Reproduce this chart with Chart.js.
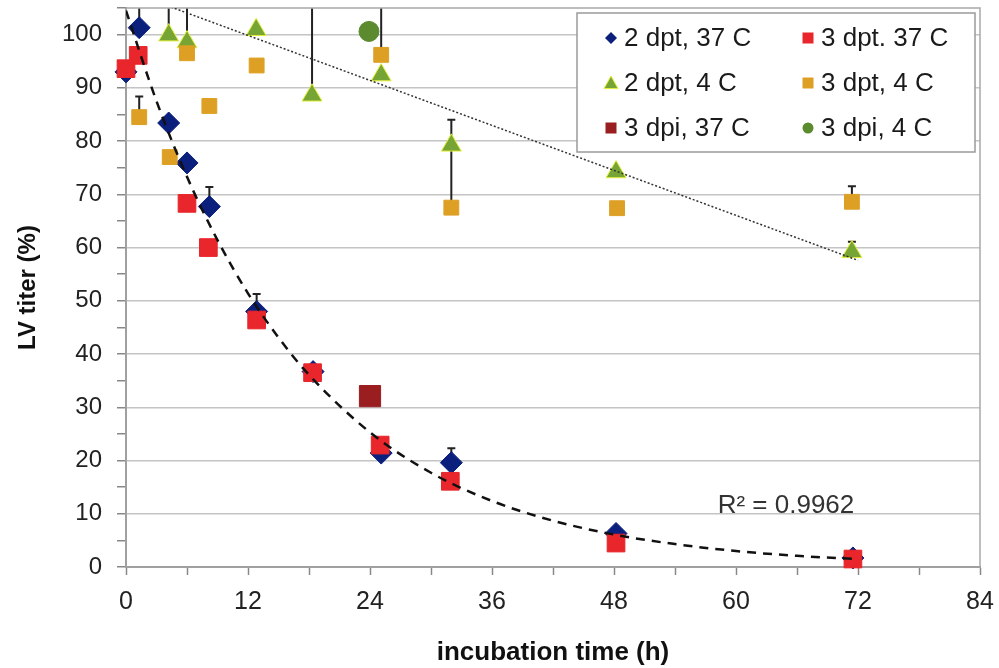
<!DOCTYPE html>
<html>
<head>
<meta charset="utf-8">
<script src="https://cdn.jsdelivr.net/npm/chart.js@4.4.0/dist/chart.umd.min.js"></script>
<style>
  html, body { margin: 0; padding: 0; background: #fff; }
  #wrap { width: 999px; height: 668px; }
</style>
</head>
<body>
<div id="wrap"><canvas id="titerChart" width="999" height="668"></canvas></div>
<script>
// LV titer (%) vs incubation time (h)

// 2 dpt, 37 C
const t2dpt37 = [0, 1.3, 4.2, 6.0, 8.2, 12.85, 18.4, 25.1, 32.0, 48.2, 71.5];
const v2dpt37 = [93.0, 101.3, 83.4, 75.9, 67.7, 48.0, 36.7, 21.4, 19.6, 6.3, 1.7];
const e2dpt37 = [null, 115, null, null, 71.4, 51.3, null, null, 22.3, null, null];

// 3 dpt. 37 C
const t3dpt37 = [0, 1.2, 6.0, 8.1, 12.85, 18.35, 25.0, 31.9, 48.2, 71.5];
const v3dpt37 = [93.6, 96.1, 68.3, 60.0, 46.4, 36.5, 22.9, 16.1, 4.5, 1.5];

// 2 dpt, 4 C
const t2dpt4 = [4.2, 6.0, 12.8, 18.3, 25.1, 32.0, 48.2, 71.4];
const v2dpt4 = [99.9, 98.6, 100.9, 88.6, 92.4, 79.2, 74.2, 59.2];
const e2dpt4 = [115, 115, null, 115, null, 84.0, null, 61.1];

// 3 dpt, 4 C
const t3dpt4 = [1.3, 4.3, 6.0, 8.2, 12.85, 25.1, 32.0, 48.3, 71.4];
const v3dpt4 = [84.5, 77.0, 96.5, 86.6, 94.2, 96.2, 67.5, 67.4, 68.6];
const e3dpt4 = [88.4, null, null, null, null, 115, 79.0, null, 71.5];

// 3 dpi
const t3dpi37 = [24.0];
const v3dpi37 = [32.1];
const t3dpi4 = [23.9];
const v3dpi4 = [100.6];

// trendlines as drawn in the figure
const tFit37 = [0, 3, 6, 9, 12, 15, 18, 24, 30, 36, 42, 48, 54, 60, 66, 72];
const vFit37 = [104.5, 87.5, 73.3, 61.4, 51.4, 43.1, 36.1, 25.3, 17.7, 12.4, 8.7, 6.1, 4.3, 3.0, 2.1, 1.5];
const tFit4 = [0, 72];
const vFit4 = [108.3, 57.6];
const r2Label = 'R² = 0.9962';

const xTicks = [0, 12, 24, 36, 48, 60, 72, 84];

function pts(xs, ys) {
  return xs.map((x, i) => ({x: x, y: ys[i]}));
}

const FONT = "'Liberation Sans', Arial, sans-serif";
const NARROW = "'Liberation Sans Narrow', 'Arial Narrow', 'Liberation Sans', sans-serif";

// error bars (plus direction only), drawn under the markers
const errorBars = {
  id: 'errorBars',
  beforeDatasetsDraw(chart) {
    const {ctx, chartArea: a, scales: {x, y}} = chart;
    ctx.save();
    ctx.beginPath();
    ctx.rect(a.left, a.top, a.right - a.left, a.bottom - a.top);
    ctx.clip();
    ctx.strokeStyle = '#222';
    ctx.lineWidth = 2;
    chart.data.datasets.forEach(ds => {
      if (!ds.errTop) return;
      ds.data.forEach((p, i) => {
        const top = ds.errTop[i];
        if (top == null) return;
        const px = x.getPixelForValue(p.x);
        const y0 = y.getPixelForValue(p.y);
        const y1 = y.getPixelForValue(top);
        ctx.beginPath();
        ctx.moveTo(px, y0);
        ctx.lineTo(px, y1);
        ctx.moveTo(px - 4, y1);
        ctx.lineTo(px + 4, y1);
        ctx.stroke();
      });
    });
    // plot area frame
    ctx.restore();
    ctx.save();
    ctx.strokeStyle = '#a8a8a8';
    ctx.lineWidth = 1.5;
    ctx.strokeRect(a.left, a.top, a.right - a.left, a.bottom - a.top);
    ctx.restore();
  }
};

function marker(ctx, style, x, y, s, fill, stroke) {
  ctx.beginPath();
  if (style === 'rectRot') {
    ctx.moveTo(x - s, y); ctx.lineTo(x, y - s); ctx.lineTo(x + s, y); ctx.lineTo(x, y + s);
  } else if (style === 'rect') {
    ctx.rect(x - s, y - s, 2 * s, 2 * s);
  } else if (style === 'triangle') {
    ctx.moveTo(x, y - s); ctx.lineTo(x + s, y + s * 0.8); ctx.lineTo(x - s, y + s * 0.8);
  } else {
    ctx.arc(x, y, s, 0, Math.PI * 2);
  }
  ctx.closePath();
  ctx.fillStyle = fill;
  ctx.fill();
  if (stroke) { ctx.strokeStyle = stroke; ctx.lineWidth = 1; ctx.stroke(); }
}

// boxed two-column legend and the R² note
const boxLegend = {
  id: 'boxLegend',
  afterDraw(chart) {
    const ctx = chart.ctx;
    ctx.save();
    ctx.fillStyle = '#fff';
    ctx.fillRect(577, 13, 398, 139);
    ctx.strokeStyle = '#9a9a9a';
    ctx.lineWidth = 1.5;
    ctx.strokeRect(577, 13, 398, 139);
    const colX = [611, 808];
    const rowY = [38, 83, 128];
    const sizes = {rectRot: 6, rect: 5.5, triangle: 7, circle: 5.5};
    chart.data.datasets.slice(0, 6).forEach((ds, i) => {
      const cx = colX[i % 2], cy = rowY[Math.floor(i / 2)];
      marker(ctx, ds.pointStyle, cx, cy, sizes[ds.pointStyle], ds.backgroundColor,
        ds.pointStyle === 'triangle' ? ds.borderColor : null);
      ctx.fillStyle = '#1a1a1a';
      ctx.font = '26px ' + FONT;
      ctx.textBaseline = 'middle';
      ctx.textAlign = 'left';
      ctx.fillText(ds.label, cx + 13, cy + 1);
    });
    const x = chart.scales.x, y = chart.scales.y;
    ctx.fillStyle = '#333';
    ctx.font = '26px ' + FONT;
    ctx.textBaseline = 'middle';
    ctx.fillText(r2Label, x.getPixelForValue(58.2), y.getPixelForValue(11.5));
    ctx.restore();
  }
};

const data = {
  datasets: [
    {
      label: '2 dpt, 37 C', data: pts(t2dpt37, v2dpt37), errTop: e2dpt37, clip: false,
      pointStyle: 'rectRot', pointRadius: 11, backgroundColor: '#0b1f7c', borderColor: '#0b1f7c', order: 10
    },
    {
      label: '3 dpt. 37 C', data: pts(t3dpt37, v3dpt37), clip: false,
      pointStyle: 'rect', pointRadius: 12.5, backgroundColor: '#e8262b', borderColor: '#e8262b', order: 9
    },
    {
      label: '2 dpt, 4 C', data: pts(t2dpt4, v2dpt4), errTop: e2dpt4, clip: false,
      pointStyle: 'triangle', pointRadius: 11.5, backgroundColor: '#76a535', borderColor: '#e4ee3c', borderWidth: 1, order: 8
    },
    {
      label: '3 dpt, 4 C', data: pts(t3dpt4, v3dpt4), errTop: e3dpt4, clip: false,
      pointStyle: 'rect', pointRadius: 10.5, backgroundColor: '#dea024', borderColor: '#dea024', order: 7
    },
    {
      label: '3 dpi, 37 C', data: pts(t3dpi37, v3dpi37), clip: false,
      pointStyle: 'rect', pointRadius: 15, backgroundColor: '#9a1d20', borderColor: '#9a1d20', order: 6
    },
    {
      label: '3 dpi, 4 C', data: pts(t3dpi4, v3dpi4), clip: false,
      pointStyle: 'circle', pointRadius: 10, backgroundColor: '#5b8a2f', borderColor: '#5b8a2f', order: 5
    },
    {
      label: 'fit 37 C', type: 'line', data: pts(tFit37, vFit37),
      borderColor: '#111', borderWidth: 2.5, borderDash: [9, 7], pointRadius: 0,
      cubicInterpolationMode: 'monotone', fill: false, order: 1
    },
    {
      label: 'fit 4 C', type: 'line', data: pts(tFit4, vFit4),
      borderColor: '#333', borderWidth: 1.5, borderDash: [2, 2], pointRadius: 0,
      fill: false, order: 0
    }
  ]
};

const config = {
  type: 'scatter',
  data: data,
  options: {
    responsive: false,
    animation: false,
    layout: { autoPadding: false, padding: { top: 8, right: 19, left: 0, bottom: 0 } },
    plugins: { legend: { display: false }, tooltip: { enabled: false } },
    scales: {
      x: {
        type: 'linear', min: 0, max: 84,
        afterFit(scale) {
          scale.height = 101;
          scale.paddingLeft = 0; scale.paddingRight = 0;
        },
        afterBuildTicks(scale) { scale.ticks = []; for (let v = 0; v <= 84; v += 6) scale.ticks.push({value: v}); },
        ticks: {
          autoSkip: false, maxRotation: 0, padding: 12, color: '#222',
          font: { family: NARROW, size: 25 },
          callback: v => xTicks.includes(v) ? String(v) : ''
        },
        grid: { drawOnChartArea: false, tickLength: 8, tickColor: '#888', tickWidth: 1.5 },
        border: { color: '#888', width: 2 },
        title: {
          display: true, text: 'incubation time (h)', color: '#111',
          font: { family: NARROW, size: 26, weight: 'bold' }, padding: { top: 0, bottom: 0 }
        }
      },
      y: {
        min: 0, max: 105,
        afterFit(scale) {
          scale.width = 126;
          scale.paddingTop = 0; scale.paddingBottom = 0;
        },
        afterBuildTicks(scale) { scale.ticks = []; for (let v = 0; v <= 105; v += 5) scale.ticks.push({value: v}); },
        ticks: {
          autoSkip: false, padding: 15, color: '#222',
          font: { family: FONT, size: 24 },
          callback: v => (v % 10 === 0 && v <= 100) ? String(v) : ''
        },
        grid: {
          color: c => (c.tick && c.tick.value % 10 === 0 && c.tick.value > 0 && c.tick.value <= 100) ? '#c4c4c4' : 'rgba(0,0,0,0)',
          lineWidth: 1.5, tickLength: 9, tickColor: '#888', tickWidth: 1.5
        },
        border: { color: '#888', width: 2 },
        title: {
          display: true, text: 'LV titer (%)', color: '#111',
          font: { family: FONT, size: 24, weight: 'bold' }, padding: { top: 14, bottom: 0 }
        }
      }
    }
  },
  plugins: [errorBars, boxLegend]
};

var titerChart = new Chart(document.getElementById('titerChart'), config);
</script>
</body>
</html>
